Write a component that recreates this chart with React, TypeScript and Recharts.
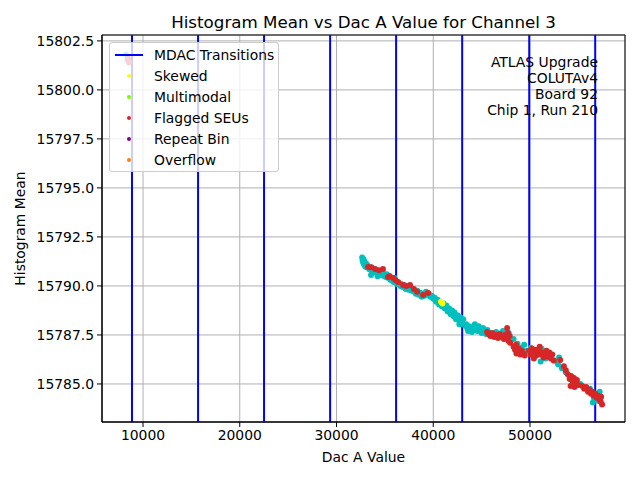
import {
  CartesianGrid,
  ReferenceArea,
  ReferenceLine,
  Scatter,
  ScatterChart,
  XAxis,
  YAxis,
} from "recharts";

type Pair = [number, number];

const xTicks = [10000, 20000, 30000, 40000, 50000];
const yTicks = [15785, 15787.5, 15790, 15792.5, 15795, 15797.5, 15800, 15802.5];
const xDomain: [number, number] = [5760, 59820];
const yDomain: [number, number] = [15783.06, 15802.8];

const mdacTransitions = [8860, 15690, 22510, 29340, 36160, 42990, 49920, 56740];

const notes = ["ATLAS Upgrade", "COLUTAv4", "Board 92", "Chip 1, Run 210"];

// regular points (drawn cyan)
const normalPoints: Pair[] = [
  [8240, 15801.8], [8380, 15801.5],
  [32650, 15791.45], [32700, 15791.3], [32750, 15791.2], [32800, 15791.35], [32850, 15791.1],
  [32900, 15791.25], [32950, 15791.0], [33050, 15791.15], [33100, 15790.95], [33200, 15791.05],
  [33570, 15790.56], [33400, 15790.85], [33500, 15790.95], [33600, 15790.8], [33700, 15790.9],
  [33800, 15790.75], [33900, 15790.85], [34000, 15790.7], [34250, 15790.5],
  [34150, 15790.8], [34300, 15790.65], [34400, 15790.75], [34550, 15790.6], [34700, 15790.55],
  [34800, 15790.7], [34950, 15790.5], [35100, 15790.45], [35200, 15790.6], [35350, 15790.4],
  [35500, 15790.5], [35600, 15790.3], [35750, 15790.35], [35900, 15790.2], [36000, 15790.4],
  [36100, 15790.25], [36250, 15790.1], [36400, 15790.15],
  [36600, 15790.0], [36700, 15790.1], [36850, 15789.95], [37000, 15790.05], [37150, 15789.85],
  [37300, 15789.95], [37450, 15789.8], [37600, 15789.9], [37750, 15789.75], [37900, 15789.85],
  [38050, 15789.7], [38200, 15789.6], [38350, 15789.75], [38500, 15789.55], [38650, 15789.65],
  [38800, 15789.45], [38950, 15789.6], [39100, 15789.5], [39250, 15789.7], [39400, 15789.55],
  [39550, 15789.6], [39700, 15789.45], [39850, 15789.5],
  [40000, 15789.35], [40150, 15789.4], [40300, 15789.2], [40450, 15789.3], [40600, 15789.05],
  [40750, 15789.15], [40900, 15788.95], [41050, 15789.1], [41200, 15788.85], [41350, 15789.0],
  [41500, 15788.7], [41650, 15788.85], [41800, 15788.55], [41950, 15788.75], [42100, 15788.45],
  [42200, 15788.65], [42350, 15788.3], [42500, 15788.5], [42650, 15788.25], [42800, 15788.4],
  [42950, 15788.1], [43100, 15788.3], [43250, 15788.0], [42700, 15788.05],
  [43400, 15788.05], [43500, 15787.85], [43600, 15787.7], [43700, 15787.95], [43850, 15787.8],
  [44000, 15787.65], [44100, 15787.9], [44250, 15787.75], [44400, 15787.85], [44550, 15787.7],
  [44700, 15787.95], [44850, 15787.8], [45000, 15787.6], [45150, 15787.85], [45300, 15787.7],
  [45450, 15787.55], [45600, 15787.75], [45800, 15787.6], [46000, 15787.5], [44300, 15788.05],
  [46500, 15787.65], [47200, 15787.7], [47800, 15787.6], [48300, 15787.3], [48700, 15787.05],
  [49100, 15786.85], [49400, 15787.0], [49600, 15786.7], [50100, 15786.85], [50700, 15786.55],
  [51200, 15786.8], [51600, 15786.3], [52000, 15786.45], [52500, 15786.2], [52900, 15786.0],
  [53300, 15785.8], [53700, 15785.6], [54300, 15785.3], [55200, 15785.0], [55700, 15784.8],
  [56200, 15784.75], [56600, 15784.3], [56800, 15784.5], [57200, 15784.6], [57000, 15784.15],
  [51100, 15786.15], [53000, 15786.35], [56500, 15784.05],
];

const skewedPoints: Pair[] = [[40800, 15789.2], [40950, 15789.1]];

const flaggedSeus: Pair[] = [
  [8450, 15801.6], [8550, 15801.4],
  [33265, 15790.97], [33600, 15790.95], [33990, 15790.87], [34400, 15790.8], [34800, 15790.87],
  [35330, 15790.46], [35500, 15790.5], [35850, 15790.41], [36100, 15790.3], [36370, 15790.2],
  [36880, 15790.05], [37200, 15790.0], [37600, 15790.05], [38000, 15789.85], [38330, 15789.7],
  [38950, 15789.54], [39470, 15789.64],
  [45570, 15787.65], [45700, 15787.55], [45900, 15787.45], [46100, 15787.6], [46300, 15787.4],
  [46500, 15787.5], [46700, 15787.35], [46900, 15787.55], [47100, 15787.4], [47300, 15787.3],
  [47450, 15787.5], [47600, 15787.35], [47640, 15787.86], [47750, 15787.2], [47900, 15787.45],
  [47950, 15787.1], [47700, 15787.6],
  [48300, 15786.9], [48450, 15786.75], [48550, 15787.0], [48600, 15786.55], [48700, 15786.6],
  [48850, 15786.8], [49000, 15786.5], [49150, 15786.7], [49300, 15786.55], [49450, 15786.45],
  [49900, 15786.7], [50050, 15786.5], [50200, 15786.8], [50350, 15786.6], [50400, 15786.3],
  [50500, 15786.75], [50650, 15786.45], [50800, 15786.65], [50950, 15786.8], [51000, 15786.9],
  [51100, 15786.5], [51250, 15786.6], [51400, 15786.35], [51550, 15786.55], [51700, 15786.7],
  [51850, 15786.4], [52000, 15786.6], [52150, 15786.3], [52300, 15786.5], [52450, 15786.2],
  [53120, 15786.22],
  [53500, 15785.9], [53700, 15785.7], [53900, 15785.5], [54100, 15785.25], [54200, 15784.9],
  [54250, 15785.4], [54400, 15785.15], [54550, 15785.3], [54600, 15784.85], [54700, 15785.05],
  [54850, 15785.2], [55000, 15784.95],
  [55400, 15784.9], [55600, 15784.75], [55800, 15784.85], [56000, 15784.6], [56150, 15784.7],
  [56300, 15784.5], [56450, 15784.6], [56600, 15784.4], [56750, 15784.5], [56900, 15784.3],
  [57050, 15784.4], [57200, 15784.2], [57300, 15784.1], [57350, 15784.35], [57450, 15783.95],
];

const toRows = (pts: Pair[]) => pts.map(([x, y]) => ({ x, y }));

const legendItems = [
  { label: "Skewed", color: "#ffff00" },
  { label: "Multimodal", color: "#7cfc00" },
  { label: "Flagged SEUs", color: "#d62728" },
  { label: "Repeat Bin", color: "#800080" },
  { label: "Overflow", color: "#ff7f0e" },
];

const font = "DejaVu Sans, sans-serif";

function dot(color: string) {
  return (p: any) => <circle cx={p.cx} cy={p.cy} r={3} fill={color} />;
}

export default function App() {
  return (
    <div
      style={{
        position: "absolute",
        left: 0,
        top: 0,
        width: 640,
        height: 480,
        fontFamily: font,
        background: "#fff",
      }}
    >
      <div
        style={{
          position: "absolute",
          top: 12,
          left: 102,
          width: 523,
          textAlign: "center",
          fontSize: 16.7,
          color: "#000",
        }}
      >
        Histogram Mean vs Dac A Value for Channel 3
      </div>

      <ScatterChart
        width={640}
        height={480}
        margin={{ top: 35, right: 15, left: 0, bottom: 0 }}
        style={{ fontFamily: font }}
      >
        <CartesianGrid stroke="#b0b0b0" strokeWidth={1} />
        <XAxis
          type="number"
          dataKey="x"
          domain={xDomain}
          ticks={xTicks}
          allowDataOverflow
          height={58}
          stroke="#000"
          tickSize={5}
          tickMargin={3}
          tick={{ fill: "#000", fontSize: 13.9 }}
          label={{
            value: "Dac A Value",
            position: "insideBottom",
            offset: 18,
            style: { fill: "#000", fontSize: 13.9 },
          }}
        />
        <YAxis
          type="number"
          dataKey="y"
          domain={yDomain}
          ticks={yTicks}
          allowDataOverflow
          width={102}
          stroke="#000"
          tickSize={5}
          tickMargin={3}
          tickFormatter={(v: number) => v.toFixed(1)}
          tick={{ fill: "#000", fontSize: 13.9 }}
          label={{
            value: "Histogram Mean",
            angle: -90,
            position: "insideLeft",
            offset: 20,
            style: { fill: "#000", fontSize: 13.9, textAnchor: "middle" },
          }}
        />
        <Scatter
          data={toRows(normalPoints)}
          shape={dot("#00bfbf")}
          isAnimationActive={false}
        />
        <Scatter
          data={toRows(flaggedSeus)}
          shape={dot("#d62728")}
          isAnimationActive={false}
        />
        <Scatter
          data={toRows(skewedPoints)}
          shape={dot("#ffff00")}
          isAnimationActive={false}
        />
        {mdacTransitions.map((x) => (
          <ReferenceLine key={x} x={x} stroke="#0000ff" strokeWidth={2} />
        ))}
        <ReferenceArea
          x1={xDomain[0]}
          x2={xDomain[1]}
          y1={yDomain[0]}
          y2={yDomain[1]}
          fill="none"
          stroke="#000"
          strokeWidth={1}
        />
      </ScatterChart>

      <div
        style={{
          position: "absolute",
          top: 54,
          right: 42,
          textAlign: "right",
          fontSize: 13.9,
          lineHeight: "16px",
          color: "#000",
        }}
      >
        {notes.map((n) => (
          <div key={n}>{n}</div>
        ))}
      </div>

      <div
        style={{
          position: "absolute",
          left: 109,
          top: 42,
          width: 168,
          height: 128,
          background: "rgba(255,255,255,0.8)",
          border: "1px solid #cccccc",
          borderRadius: 3,
          fontSize: 13.9,
          color: "#000",
        }}
      >
        <div style={{ position: "absolute", left: 5, top: 1, height: 21, display: "flex", alignItems: "center" }}>
          <div style={{ width: 28, height: 2, background: "#0000ff" }} />
          <span style={{ marginLeft: 11 }}>MDAC Transitions</span>
        </div>
        {legendItems.map((it, i) => (
          <div
            key={it.label}
            style={{
              position: "absolute",
              left: 5,
              top: 22 + i * 21,
              height: 21,
              display: "flex",
              alignItems: "center",
            }}
          >
            <div style={{ width: 28, display: "flex", justifyContent: "center" }}>
              <div style={{ width: 4, height: 4, borderRadius: 2, background: it.color }} />
            </div>
            <span style={{ marginLeft: 11 }}>{it.label}</span>
          </div>
        ))}
      </div>
    </div>
  );
}
